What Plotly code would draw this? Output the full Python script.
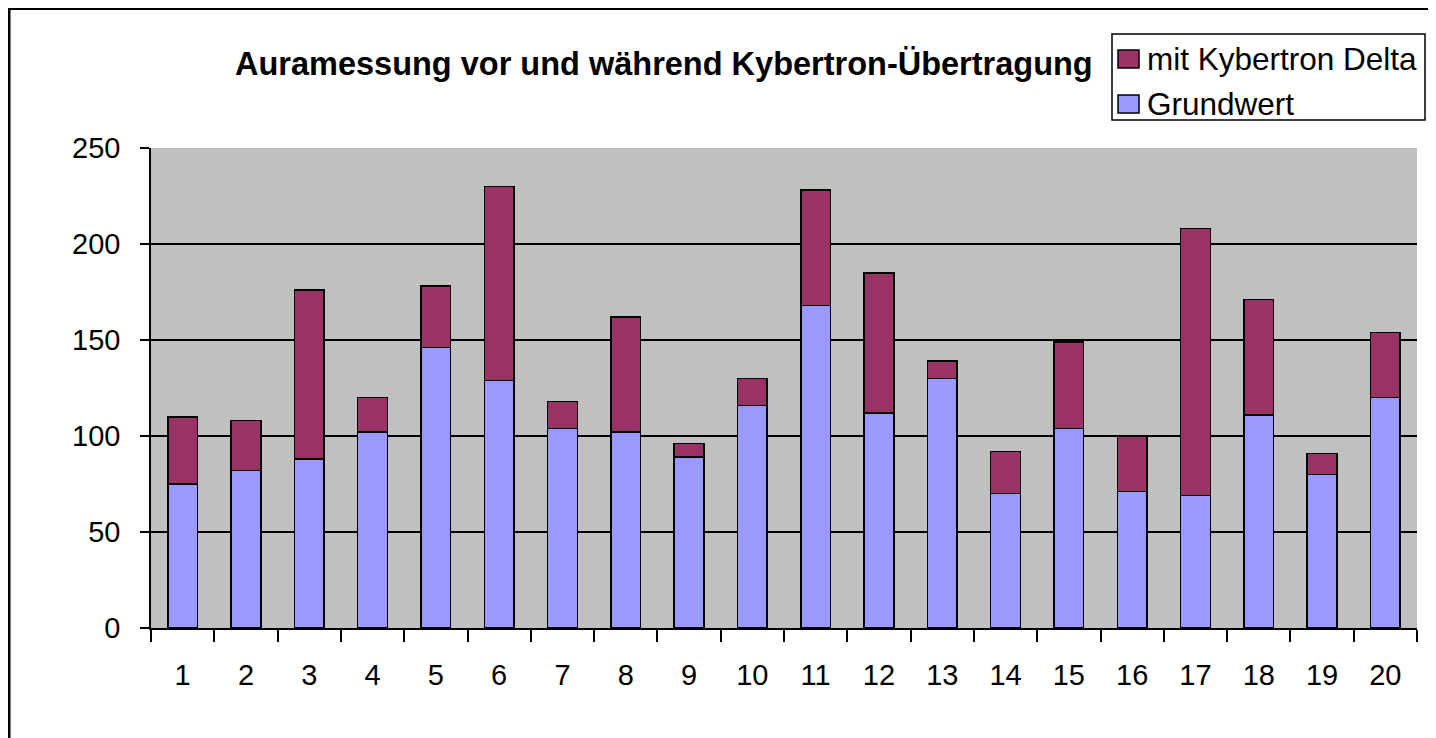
import plotly.graph_objects as go

categories = [str(i) for i in range(1, 21)]
grundwert = [75, 82, 88, 102, 146, 129, 104, 102, 89, 116, 168, 112, 130, 70, 104, 71, 69, 111, 80, 120]
gesamt = [110, 108, 176, 120, 178, 230, 118, 162, 96, 130, 228, 185, 139, 92, 149, 100, 208, 171, 91, 154]
delta = [g - b for g, b in zip(gesamt, grundwert)]

title_text = "Auramessung vor und während Kybertron-Übertragung"
series_names = ["Grundwert", "mit Kybertron Delta"]
series_colors = ["#9999FF", "#993366"]
y_ticks = [0, 50, 100, 150, 200, 250]

FONT = "Liberation Sans, Arial, sans-serif"

# figure geometry (page has 8px body margin)
W, H = 1428, 730
ML, MR, MT, MB = 143, 19, 140, 110
PW, PH = W - ML - MR, H - MT - MB


def px(X):
    return (X - ML) / PW


def py(Y):
    return (H - MB - Y) / PH


fig = go.Figure()
fig.add_trace(go.Bar(x=categories, y=grundwert, name=series_names[0],
                     marker=dict(color=series_colors[0], line=dict(color="black", width=1.5))))
fig.add_trace(go.Bar(x=categories, y=delta, name=series_names[1],
                     marker=dict(color=series_colors[1], line=dict(color="black", width=1.5))))

shapes = [
    # outer chart frame
    dict(type="rect", xref="paper", yref="paper",
         x0=px(1), x1=px(W + 40), y0=py(H + 40), y1=py(0.5),
         line=dict(color="black", width=3), fillcolor="rgba(0,0,0,0)", layer="below"),
    # legend box
    dict(type="rect", xref="paper", yref="paper",
         x0=px(1104), x1=px(1417), y0=py(112), y1=py(26),
         line=dict(color="black", width=1.5), fillcolor="white"),
]
annotations = [dict(
    text="<b>" + title_text + "</b>",
    xref="paper", yref="paper", x=px(656), y=py(56),
    xanchor="center", yanchor="middle", showarrow=False,
    font=dict(family=FONT, size=32.5, color="black"),
)]

legend_rows = [(series_names[1], series_colors[1], 51), (series_names[0], series_colors[0], 96)]
for name, color, yc in legend_rows:
    shapes.append(dict(type="rect", xref="paper", yref="paper",
                       x0=px(1110), x1=px(1131), y0=py(yc + 9), y1=py(yc - 9),
                       line=dict(color="black", width=1.5), fillcolor=color))
    annotations.append(dict(text=name, xref="paper", yref="paper",
                            x=px(1137), y=py(yc), xanchor="left", yanchor="middle",
                            showarrow=False,
                            font=dict(family=FONT, size=31.5, color="black")))

fig.update_layout(
    barmode="stack",
    bargap=0.53,
    width=W, height=H,
    margin=dict(l=ML, r=MR, t=MT, b=MB),
    paper_bgcolor="white",
    plot_bgcolor="#C0C0C0",
    font=dict(family=FONT, color="black", size=29),
    showlegend=False,
    shapes=shapes,
    annotations=annotations,
)

fig.update_xaxes(
    type="category",
    showline=True, linecolor="black", linewidth=1.5,
    ticks="outside", tickson="boundaries", ticklen=12, tickwidth=1.5, tickcolor="black",
    tickfont=dict(family=FONT, size=29, color="black"),
    ticklabelstandoff=20,
    showgrid=False,
)
fig.update_yaxes(
    range=[0, 250], tickvals=y_ticks,
    showline=True, linecolor="black", linewidth=1.5,
    ticks="outside", ticklen=9, tickwidth=1.5, tickcolor="black",
    showgrid=True, gridcolor="black", gridwidth=1.5,
    tickfont=dict(family=FONT, size=29, color="black"),
    ticklabelstandoff=14,
    zeroline=False,
)

fig.write_html("out.html")
